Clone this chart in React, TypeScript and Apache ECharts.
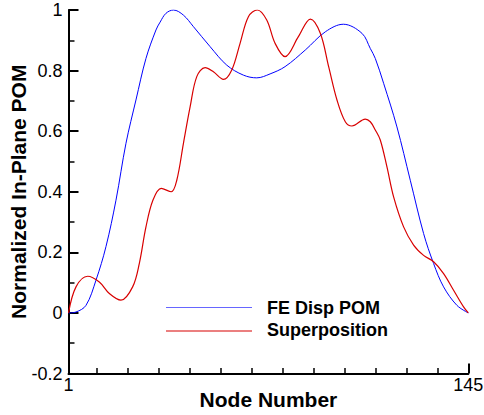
import React, { useEffect, useRef } from "react";
import * as echarts from "echarts";

const FONT = "'Liberation Sans', Arial, Helvetica, sans-serif";

// FE Disp POM (blue)
const feNodes = [1, 3.7, 7.3, 10.9, 14.5, 18.1, 21.7, 25.3, 28.9, 32.5, 34, 36.1, 38.8, 42.4, 46, 52, 58, 64, 68.8, 73.6, 79, 86.3, 93.5, 100, 106.7, 109.7, 111.5, 114.5, 119.3, 124.1, 128.9, 132.5, 136.1, 140.9, 145];
const feValues = [0, 0.003, 0.025, 0.108, 0.219, 0.372, 0.56, 0.703, 0.84, 0.934, 0.96, 0.989, 1.0, 0.983, 0.945, 0.879, 0.818, 0.785, 0.776, 0.789, 0.813, 0.868, 0.928, 0.953, 0.923, 0.873, 0.84, 0.758, 0.614, 0.438, 0.262, 0.163, 0.086, 0.025, 0];

// Superposition (red)
const spNodes = [1, 3.7, 7.9, 12.1, 15.7, 19.9, 24.1, 26.5, 28.9, 31.4, 34.4, 38, 40, 42.4, 44.8, 47.2, 50.2, 53.2, 56.8, 59.8, 62.8, 65.8, 69, 72.4, 75.4, 79, 83.8, 88.1, 91.7, 94.7, 97.7, 100.7, 103.1, 107.9, 109.7, 111.5, 113.3, 115.7, 118.1, 121.7, 125.3, 128.9, 132.5, 136.1, 139.7, 143.3, 145];
const spValues = [0, 0.086, 0.121, 0.102, 0.064, 0.042, 0.086, 0.163, 0.284, 0.372, 0.411, 0.4, 0.438, 0.56, 0.68, 0.78, 0.81, 0.796, 0.771, 0.802, 0.89, 0.978, 1.0, 0.967, 0.89, 0.846, 0.912, 0.97, 0.923, 0.813, 0.703, 0.631, 0.617, 0.64, 0.631, 0.604, 0.571, 0.482, 0.383, 0.284, 0.224, 0.19, 0.169, 0.13, 0.075, 0.02, 0];

const xLabelValues = [1, 145];
const xMinorTicks = [11.15, 22.31, 33.46, 44.62, 55.77, 66.92, 78.08, 89.23, 100.38, 111.54, 122.69, 133.85];
const xMajorTicks = [145];

const seriesNames = ["FE Disp POM", "Superposition"];
const seriesColors = ["#0000ff", "#d80000"];

export default function App() {
  const ref = useRef<HTMLDivElement>(null);
  useEffect(() => {
    document.body.style.margin = "0";
    document.body.style.overflow = "hidden";
    if (!ref.current) return;
    const chart = echarts.init(ref.current, null, { renderer: "svg" });
    const feData = feNodes.map((n, i) => [n, feValues[i]]);
    const spData = spNodes.map((n, i) => [n, spValues[i]]);
    chart.setOption({
      animation: false,
      backgroundColor: "#ffffff",
      grid: { left: 68.5, right: 15.7, top: 10, bottom: 41.5, containLabel: false, outerBoundsMode: "none" },
      xAxis: [
        {
          type: "value",
          min: 1,
          max: 145,
          name: "Node Number",
          nameLocation: "middle",
          nameGap: 15,
          nameMoveOverlap: false,
          nameTextStyle: { fontFamily: FONT, fontSize: 21, fontWeight: "bold", color: "#000" },
          axisLine: { onZero: false, lineStyle: { color: "#000", width: 2 } },
          axisTick: { inside: true, length: 5.5, customValues: xMinorTicks, lineStyle: { color: "#000", width: 1.5 } },
          axisLabel: { customValues: xLabelValues, fontFamily: FONT, fontSize: 18, color: "#000", margin: 2 },
          splitLine: { show: false },
        },
        {
          type: "value",
          min: 1,
          max: 145,
          position: "bottom",
          axisLine: { show: false, onZero: false },
          axisTick: { inside: true, length: 10, customValues: xMajorTicks, lineStyle: { color: "#000", width: 2 } },
          axisLabel: { show: false },
          splitLine: { show: false },
        },
      ],
      yAxis: {
        type: "value",
        min: -0.2,
        max: 1,
        interval: 0.2,
        name: "Normalized In-Plane POM",
        nameLocation: "middle",
        nameGap: 40,
        nameMoveOverlap: false,
        nameTextStyle: { fontFamily: FONT, fontSize: 21, fontWeight: "bold", color: "#000" },
        axisLine: { show: true, lineStyle: { color: "#000", width: 2 } },
        axisTick: { inside: true, length: 10, lineStyle: { color: "#000", width: 2 } },
        minorTick: { show: true, splitNumber: 2, length: 6, lineStyle: { color: "#000", width: 1.5 } },
        axisLabel: { fontFamily: FONT, fontSize: 18, color: "#000", margin: 6 },
        splitLine: { show: false },
        minorSplitLine: { show: false },
      },
      series: [
        {
          name: seriesNames[0],
          type: "line",
          data: feData,
          xAxisIndex: 0,
          smooth: 0.35,
          showSymbol: false,
          symbol: "none",
          lineStyle: { color: seriesColors[0], width: 1 },
        },
        {
          name: seriesNames[1],
          type: "line",
          data: spData,
          xAxisIndex: 0,
          smooth: 0.35,
          showSymbol: false,
          symbol: "none",
          lineStyle: { color: seriesColors[1], width: 1.2 },
        },
      ],
      graphic: [
        { type: "line", shape: { x1: 166, y1: 307.5, x2: 252, y2: 307.5 }, style: { stroke: seriesColors[0], lineWidth: 1, opacity: 0.6 } },
        { type: "line", shape: { x1: 166, y1: 331, x2: 252, y2: 331 }, style: { stroke: seriesColors[1], lineWidth: 1.2 } },
        { type: "text", x: 267, y: 308, style: { text: seriesNames[0], fontFamily: FONT, fontSize: 18, fontWeight: "bold", fill: "#000", verticalAlign: "middle" } },
        { type: "text", x: 267, y: 330, style: { text: seriesNames[1], fontFamily: FONT, fontSize: 18, fontWeight: "bold", fill: "#000", verticalAlign: "middle" } },
      ],
    });
    return () => chart.dispose();
  }, []);
  return <div ref={ref} style={{ width: 484, height: 415 }} />;
}
